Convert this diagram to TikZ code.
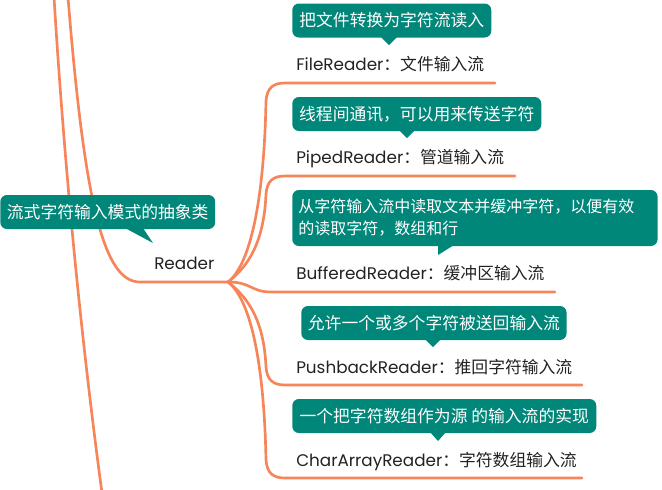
\documentclass[tikz,border=0pt]{standalone}
\usepackage{fontspec}
\setmainfont{Noto Sans CJK SC}
\newfontfamily\latfont{Poppins}
\usetikzlibrary{calc}
\definecolor{cTeal}{HTML}{00877A}
\definecolor{cCoral}{HTML}{F7855A}
\definecolor{cInk}{HTML}{222222}
\tikzset{
  cnote/.style={fill=cTeal,rounded corners=5pt,text=white,font=\fontsize{12.6pt}{16.5pt}\selectfont,
    inner xsep=5pt,inner ysep=2pt,minimum height=25.5pt,anchor=west,align=left},
  cptr/.style={fill=cTeal},
  rlbl/.style={text=cInk,font=\fontsize{12.6pt}{15pt}\selectfont,anchor=base west,inner sep=0pt},
  branch/.style={draw=cCoral,line width=2pt,line cap=round},
}

\begin{document}
\begin{tikzpicture}[x=0.75pt,y=-0.75pt]
  \useasboundingbox (0,0) rectangle (662,490);
  % topic ends
  \coordinate (topA) at (54,-3);
  \coordinate (botA) at (102,493);
  \coordinate (topB) at (68,-3);
  \coordinate (rdL) at (140,282);
  \coordinate (rdR) at (228,282);
  \coordinate (fileL) at (285,83);   \coordinate (fileR) at (495,83);
  \coordinate (pipeL) at (285,176);  \coordinate (pipeR) at (515,176);
  \coordinate (bufL) at (272,292);   \coordinate (bufR) at (555,292);
  \coordinate (pushL) at (285,385);  \coordinate (pushR) at (582,385);
  \coordinate (charL) at (285,478);  \coordinate (charR) at (582,478);

  % branches
  \draw[branch] (topA) .. controls (64,160) and (80,330) .. (botA);
  \draw[branch] (topB) .. controls (85,210) and (105,282) .. (rdL) -- (rdR);
  \draw[branch] (rdR) .. controls +(22,-17) and +(-2,101) .. ($(fileL)+(-19,18)$)
    .. controls +(1,-13) and +(-12,0) .. (fileL) -- (fileR);
  \draw[branch] (rdR) .. controls +(22,-17) and +(-2,46) .. ($(pipeL)+(-19,18)$)
    .. controls +(1,-13) and +(-12,0) .. (pipeL) -- (pipeR);
  \draw[branch] (rdR) .. controls +(24,0) and +(-22,0) .. (bufL) -- (bufR);
  \draw[branch] (rdR) .. controls +(22,17) and +(-2,-44) .. ($(pushL)+(-19,-18)$)
    .. controls +(1,13) and +(-12,0) .. (pushL) -- (pushR);
  \draw[branch] (rdR) .. controls +(22,17) and +(-2,-100) .. ($(charL)+(-19,-18)$)
    .. controls +(1,13) and +(-12,0) .. (charL) -- (charR);

  % labels
  \node[rlbl] (reader) at (154,269) {\latfont Reader};
  \node[rlbl] (file) at (296,70)  {{\latfont FileReader}：文件输入流};
  \node[rlbl] (pipe) at (296,163) {{\latfont PipedReader}：管道输入流};
  \node[rlbl] (buf)  at (296,279) {{\latfont BufferedReader}：缓冲区输入流};
  \node[rlbl] (push) at (296,373) {{\latfont PushbackReader}：推回字符输入流};
  \node[rlbl] (char) at (296,466) {{\latfont CharArrayReader}：字符数组输入流};

  % callouts
  \node[cnote,minimum width=159.75pt] (nAbs) at (0,212) {流式字符输入模式的抽象类};
  \fill[cptr] (125,228) -- (153,243) -- (143,228) -- cycle;
  \node[cnote,minimum width=149.25pt] (nFile) at (292,20.5) {把文件转换为字符流读入};
  \fill[cptr] (381,37) -- (389,45) -- (397,37) -- cycle;
  \node[cnote,minimum width=186.75pt] (nPipe) at (292,114) {线程间通讯，可以用来传送字符};
  \fill[cptr] (399,130) -- (407,138) -- (415,130) -- cycle;
  \node[cnote,text width=265pt,inner xsep=4.5pt,minimum height=42pt,font=\fontsize{12pt}{16.5pt}\selectfont] (nBuf) at (292,218)
    {从字符输入流中读取文本并缓冲字符，以便有效\\的读取字符，数组和行};
  \fill[cptr] (438,245) -- (438,255) -- (454,245) -- cycle;
  \node[cnote,minimum width=198.75pt] (nPush) at (301,323) {允许一个或多个字符被送回输入流};
  \fill[cptr] (425,339) -- (433,347) -- (441,339) -- cycle;
  \node[cnote,minimum width=228pt] (nChar) at (292,416) {一个把字符数组作为源 的输入流的实现};
  \fill[cptr] (430,432) -- (438,441) -- (446,432) -- cycle;
\end{tikzpicture}
\end{document}
